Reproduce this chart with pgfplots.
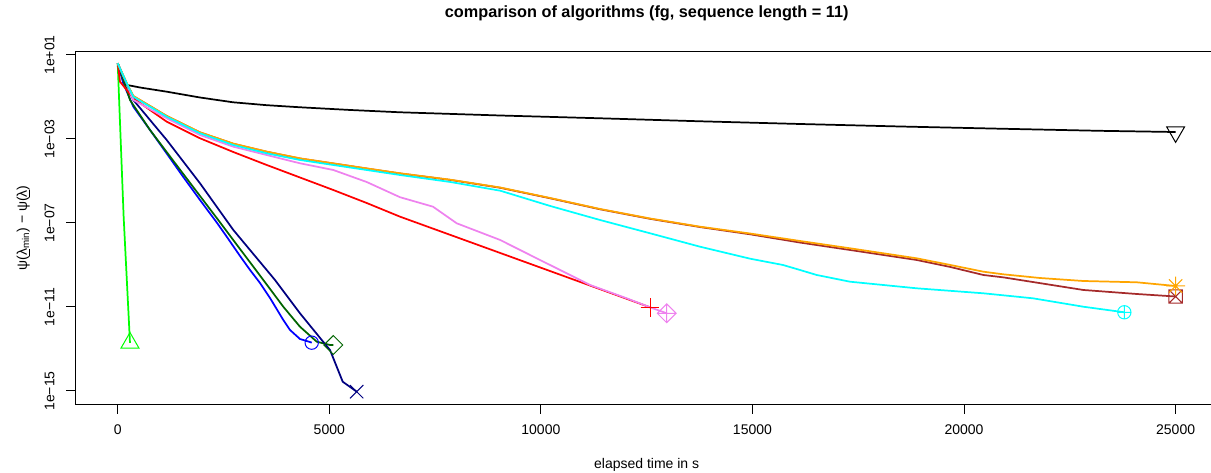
\documentclass[border=0pt]{standalone}
\usepackage{fontspec}
\setmainfont{Liberation Sans}
\usepackage{pgfplots}
\pgfplotsset{compat=1.18}
\pgfdeclareplotmark{Rcirc}{\pgfpathcircle{\pgfpointorigin}{\pgfplotmarksize}\pgfusepathqstroke}
\pgfdeclareplotmark{Rtri}{%
 \pgfpathmoveto{\pgfqpoint{0pt}{1.555\pgfplotmarksize}}%
 \pgfpathlineto{\pgfqpoint{1.347\pgfplotmarksize}{-0.778\pgfplotmarksize}}%
 \pgfpathlineto{\pgfqpoint{-1.347\pgfplotmarksize}{-0.778\pgfplotmarksize}}%
 \pgfpathclose\pgfusepathqstroke}
\pgfdeclareplotmark{Rtrid}{%
 \pgfpathmoveto{\pgfqpoint{0pt}{-1.555\pgfplotmarksize}}%
 \pgfpathlineto{\pgfqpoint{1.347\pgfplotmarksize}{0.778\pgfplotmarksize}}%
 \pgfpathlineto{\pgfqpoint{-1.347\pgfplotmarksize}{0.778\pgfplotmarksize}}%
 \pgfpathclose\pgfusepathqstroke}
\pgfdeclareplotmark{Rplus}{%
 \pgfpathmoveto{\pgfqpoint{-1.414\pgfplotmarksize}{0pt}}\pgfpathlineto{\pgfqpoint{1.414\pgfplotmarksize}{0pt}}%
 \pgfpathmoveto{\pgfqpoint{0pt}{-1.414\pgfplotmarksize}}\pgfpathlineto{\pgfqpoint{0pt}{1.414\pgfplotmarksize}}%
 \pgfusepathqstroke}
\pgfdeclareplotmark{Rx}{%
 \pgfpathmoveto{\pgfqpoint{-\pgfplotmarksize}{-\pgfplotmarksize}}\pgfpathlineto{\pgfqpoint{\pgfplotmarksize}{\pgfplotmarksize}}%
 \pgfpathmoveto{\pgfqpoint{-\pgfplotmarksize}{\pgfplotmarksize}}\pgfpathlineto{\pgfqpoint{\pgfplotmarksize}{-\pgfplotmarksize}}%
 \pgfusepathqstroke}
\pgfdeclareplotmark{Rdiam}{%
 \pgfpathmoveto{\pgfqpoint{0pt}{1.414\pgfplotmarksize}}\pgfpathlineto{\pgfqpoint{1.414\pgfplotmarksize}{0pt}}%
 \pgfpathlineto{\pgfqpoint{0pt}{-1.414\pgfplotmarksize}}\pgfpathlineto{\pgfqpoint{-1.414\pgfplotmarksize}{0pt}}%
 \pgfpathclose\pgfusepathqstroke}
\pgfdeclareplotmark{Rsqx}{%
 \pgfpathrectanglecorners{\pgfqpoint{-\pgfplotmarksize}{-\pgfplotmarksize}}{\pgfqpoint{\pgfplotmarksize}{\pgfplotmarksize}}%
 \pgfpathmoveto{\pgfqpoint{-\pgfplotmarksize}{-\pgfplotmarksize}}\pgfpathlineto{\pgfqpoint{\pgfplotmarksize}{\pgfplotmarksize}}%
 \pgfpathmoveto{\pgfqpoint{-\pgfplotmarksize}{\pgfplotmarksize}}\pgfpathlineto{\pgfqpoint{\pgfplotmarksize}{-\pgfplotmarksize}}%
 \pgfusepathqstroke}
\pgfdeclareplotmark{Rast}{%
 \pgfpathmoveto{\pgfqpoint{-\pgfplotmarksize}{-\pgfplotmarksize}}\pgfpathlineto{\pgfqpoint{\pgfplotmarksize}{\pgfplotmarksize}}%
 \pgfpathmoveto{\pgfqpoint{-\pgfplotmarksize}{\pgfplotmarksize}}\pgfpathlineto{\pgfqpoint{\pgfplotmarksize}{-\pgfplotmarksize}}%
 \pgfpathmoveto{\pgfqpoint{-1.414\pgfplotmarksize}{0pt}}\pgfpathlineto{\pgfqpoint{1.414\pgfplotmarksize}{0pt}}%
 \pgfpathmoveto{\pgfqpoint{0pt}{-1.414\pgfplotmarksize}}\pgfpathlineto{\pgfqpoint{0pt}{1.414\pgfplotmarksize}}%
 \pgfusepathqstroke}
\pgfdeclareplotmark{Rdplus}{%
 \pgfpathmoveto{\pgfqpoint{0pt}{1.414\pgfplotmarksize}}\pgfpathlineto{\pgfqpoint{1.414\pgfplotmarksize}{0pt}}%
 \pgfpathlineto{\pgfqpoint{0pt}{-1.414\pgfplotmarksize}}\pgfpathlineto{\pgfqpoint{-1.414\pgfplotmarksize}{0pt}}%
 \pgfpathclose
 \pgfpathmoveto{\pgfqpoint{-1.414\pgfplotmarksize}{0pt}}\pgfpathlineto{\pgfqpoint{1.414\pgfplotmarksize}{0pt}}%
 \pgfpathmoveto{\pgfqpoint{0pt}{-1.414\pgfplotmarksize}}\pgfpathlineto{\pgfqpoint{0pt}{1.414\pgfplotmarksize}}%
 \pgfusepathqstroke}
\pgfdeclareplotmark{Roplus}{%
 \pgfpathcircle{\pgfpointorigin}{\pgfplotmarksize}%
 \pgfpathmoveto{\pgfqpoint{-\pgfplotmarksize}{0pt}}\pgfpathlineto{\pgfqpoint{\pgfplotmarksize}{0pt}}%
 \pgfpathmoveto{\pgfqpoint{0pt}{-\pgfplotmarksize}}\pgfpathlineto{\pgfqpoint{0pt}{\pgfplotmarksize}}%
 \pgfusepathqstroke}
\definecolor{Rgreen}{HTML}{00FF00}
\definecolor{Rblue}{HTML}{0000FF}
\definecolor{Rdarkgreen}{HTML}{006400}
\definecolor{Rnavy}{HTML}{000080}
\definecolor{Rred}{HTML}{FF0000}
\definecolor{Rviolet}{HTML}{EE82EE}
\definecolor{Rcyan}{HTML}{00FFFF}
\definecolor{Rorange}{HTML}{FFA500}
\definecolor{Rbrown}{HTML}{A52A2A}
\pgfplotsset{
  curve/.style={no marks, line width=1.3pt, line join=round},
  endmark/.style={only marks, mark size=5pt, line width=0.75pt, mark options={solid}},
}
\begin{document}
\begin{tikzpicture}
\begin{axis}[
  at={(0pt,0pt)}, anchor=south west,
  scale only axis, width=856.9pt, height=264.5pt,
  xmin=-1000, xmax=26000,
  ymode=log, ymin=2.33e-16, ymax=14.5,
  axis line style={line width=0.8pt},
  tick align=outside, tick pos=left, major tick length=7pt,
  tick style={line width=0.75pt, black},
  scaled x ticks=false,
  xtick={0,5000,10000,15000,20000,25000},
  xticklabels={0,5000,10000,15000,20000,25000},
  ytick={1e1,1e-3,1e-7,1e-11,1e-15},
  yticklabels={1e+01,1e−03,1e−07,1e−11,1e−15},
  yminorticks=false, xminorticks=false,
  tick label style={font=\fontsize{10.5}{12}\selectfont},
  xticklabel style={anchor=base, yshift=-16pt},
  yticklabel style={xshift=-8.75pt, rotate=90, anchor=base},
  title={comparison of algorithms (fg, sequence length = 11)},
  title style={at={(axis description cs:0.5,1.0754)}, anchor=base, font=\bfseries\fontsize{12.2}{14}\selectfont},
  xlabel={elapsed time in s},
  xlabel style={at={(axis description cs:0.5,-0.1807)}, anchor=base, font=\fontsize{10.5}{12}\selectfont},
  ylabel={ψ(\underline{λ}\textsubscript{min}) − ψ(\underline{λ})},
  ylabel style={at={(axis description cs:-0.0424,0.5)}, anchor=base, font=\fontsize{10.5}{12}\selectfont},
]
% black
\addplot[black, curve] coordinates {(0,4.03)(189,0.385)(527,0.283)(1158,0.179)(1945,0.0946)(2725,0.056)(3521,0.0407)(4307,0.0324)(5490,0.0241)(6671,0.0187)(9039,0.01315)(11397,0.00968)(13761,0.00697)(16124,0.00518)(18488,0.00394)(20852,0.00309)(23215,0.00245)(25000,0.00215)};
% bright green
\addplot[Rgreen, curve] coordinates {(0,4.03)(140,2.0e-7)(290,1.95e-13)};
% blue
\addplot[Rblue, curve] coordinates {(0,4.03)(132,0.449)(369,0.0345)(763,2.69e-3)(1158,2.04e-4)(1550,1.55e-5)(1945,1.24e-6)(2340,1.06e-7)(2576,2.23e-8)(2890,2.69e-9)(3127,5.78e-10)(3363,1.39e-10)(3599,2.69e-11)(3913,2.40e-12)(4072,8.04e-13)(4307,2.99e-13)(4544,2.15e-13)(4585,2.0e-13)};
% dark green
\addplot[Rdarkgreen, curve] coordinates {(0,4.03)(291,0.0719)(763,2.69e-3)(1550,2.15e-5)(2340,1.73e-7)(2890,5.78e-9)(3441,1.93e-10)(3913,1.03e-11)(4307,1.15e-12)(4703,2.23e-13)(5017,1.55e-13)(5095,1.55e-13)};
% navy
\addplot[Rnavy, curve] coordinates {(0,4.03)(369,0.0719)(1158,8.95e-4)(1945,7.76e-6)(2732,4.65e-8)(3717,1.93e-10)(4307,5.01e-12)(4821,2.69e-13)(5017,8.95e-14)(5317,2.77e-15)(5648,9.27e-16)};
% red
\addplot[Rred, curve] coordinates {(0,4.03)(54,0.536)(369,0.0867)(1158,6.67e-3)(1945,1.08e-3)(2732,2.40e-4)(3521,5.78e-5)(4307,1.47e-5)(5095,3.72e-6)(5884,8.95e-7)(6671,2.00e-7)(12106,2.15e-11)(12579,9.68e-12)};
% violet
\addplot[Rviolet, curve] coordinates {(0,4.03)(213,0.43)(369,0.0719)(1158,9.68e-3)(1945,1.55e-3)(2732,4.30e-4)(3521,1.73e-4)(4307,6.97e-5)(5095,3.34e-5)(5884,8.95e-6)(6671,1.69e-6)(7451,5.97e-7)(8011,9.68e-8)(9039,1.55e-8)(9979,1.73e-9)(10611,4.03e-10)(11161,1.12e-10)(12028,2.59e-11)(12579,9.68e-12)(12974,5.01e-12)};
% brown
\addplot[Rbrown, curve] coordinates {(0,4.03)(213,0.44)(369,0.11)(1158,0.0124)(1945,2.05e-3)(2732,5.9e-4)(3521,2.46e-4)(4307,1.17e-4)(5095,6.8e-5)(5884,3.9e-5)(6671,2.28e-5)(7863,1.12e-5)(9039,4.75e-6)(10220,1.50e-6)(11397,4.5e-7)(12579,1.58e-7)(13761,6.4e-8)(14942,2.9e-8)(16124,1.17e-8)(17306,5.18e-9)(18882,1.73e-9)(19678,8.03e-10)(20456,3.34e-10)(20922,2.59e-10)(22819,6.46e-11)(24081,4.16e-11)(25000,3.16e-11)};
% orange
\addplot[Rorange, curve] coordinates {(0,4.03)(213,0.46)(369,0.112)(1158,0.0126)(1945,2.09e-3)(2732,6.03e-4)(3521,2.51e-4)(4307,1.20e-4)(5095,6.92e-5)(5884,3.98e-5)(6671,2.33e-5)(7863,1.15e-5)(9039,4.90e-6)(10220,1.55e-6)(11397,4.65e-7)(12579,1.64e-7)(13761,6.67e-8)(14942,3.16e-8)(16124,1.39e-8)(17306,6.24e-9)(18882,2.08e-9)(19678,1.0e-9)(20456,4.80e-10)(20922,3.61e-10)(21796,2.40e-10)(22819,1.73e-10)(24081,1.50e-10)(25000,1.0e-10)};
% cyan
\addplot[Rcyan, curve] coordinates {(0,4.03)(213,0.449)(369,0.103)(1158,0.0115)(1945,1.87e-3)(2732,5.18e-4)(3521,2.08e-4)(4307,1.0e-4)(5095,5.78e-5)(5884,3.34e-5)(6671,1.93e-5)(7863,8.95e-6)(9039,3.45e-6)(10220,6.46e-7)(11397,1.39e-7)(12579,3.24e-8)(13761,7.43e-9)(14942,2.0e-9)(15722,1.0e-9)(16124,5.78e-10)(16519,3.34e-10)(17306,1.60e-10)(18882,7.76e-11)(20456,4.49e-11)(21630,2.59e-11)(22819,1.03e-11)(23788,5.60e-12)};
% end markers
\addplot[black, endmark, mark=Rtrid] coordinates {(25000,0.00215)};
\addplot[Rgreen, endmark, mark=Rtri] coordinates {(290,1.95e-13)};
\addplot[Rblue, endmark, mark=Rcirc] coordinates {(4585,2.0e-13)};
\addplot[Rdarkgreen, endmark, mark=Rdiam] coordinates {(5095,1.55e-13)};
\addplot[Rnavy, endmark, mark=Rx] coordinates {(5648,9.27e-16)};
\addplot[Rred, endmark, mark=Rplus] coordinates {(12579,9.68e-12)};
\addplot[Rviolet, endmark, mark=Rdplus] coordinates {(12974,5.01e-12)};
\addplot[Rbrown, endmark, mark=Rsqx] coordinates {(25000,3.16e-11)};
\addplot[Rorange, endmark, mark=Rast] coordinates {(25000,1.0e-10)};
\addplot[Rcyan, endmark, mark=Roplus] coordinates {(23788,5.60e-12)};
\end{axis}
\pgfresetboundingbox
\path[use as bounding box] (-56.55pt,-50.8pt) rectangle (851.7pt,303.2pt);
\end{tikzpicture}
\end{document}
